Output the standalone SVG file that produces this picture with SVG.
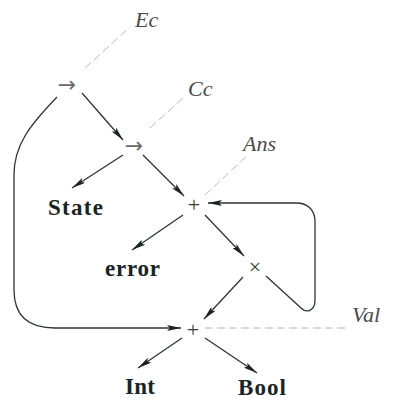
<svg xmlns="http://www.w3.org/2000/svg" width="396" height="400" viewBox="0 0 396 400">
<style>
.bg{fill:#ffffff}
.con{fill:none;stroke:#2e3434;stroke-width:1.3}
.dash{fill:none;stroke:#b8b8b8;stroke-width:1;stroke-dasharray:8 4}
.lbl{font-family:"Liberation Serif",serif;font-weight:bold;font-size:23px;fill:#1a2424}
.var{font-family:"Liberation Serif",serif;font-style:italic;font-size:22px;fill:#4a4a4a}
.sym{font-family:"DejaVu Sans",sans-serif;font-size:22px;fill:#6a6a6a;text-anchor:middle}
.op{font-family:"Liberation Serif",serif;font-size:22px;fill:#3a3a3a;text-anchor:middle}
</style>
<defs>
<marker id="ah" viewBox="0 0 14 6" refX="14" refY="3" markerWidth="14" markerHeight="6" markerUnits="userSpaceOnUse" orient="auto">
<path d="M0,0 L14,3 L0,6 L3,3 Z" fill="#1a2424"/>
</marker>
</defs>
<rect class="bg" x="0" y="0" width="396" height="400"/>
<g id="connectors">
<line class="dash" x1="85" y1="68" x2="130" y2="27"/>
<line class="dash" x1="150" y1="128" x2="183" y2="98"/>
<line class="dash" x1="205" y1="195" x2="248" y2="155"/>
<line class="dash" x1="205" y1="328" x2="348" y2="328"/>
<line class="con" x1="82" y1="93" x2="123" y2="140" marker-end="url(#ah)"/>
<line class="con" x1="123" y1="155" x2="72" y2="188" marker-end="url(#ah)"/>
<line class="con" x1="143" y1="155" x2="184" y2="196" marker-end="url(#ah)"/>
<line class="con" x1="183" y1="215" x2="132" y2="250" marker-end="url(#ah)"/>
<line class="con" x1="205" y1="215" x2="244" y2="256" marker-end="url(#ah)"/>
<line class="con" x1="243" y1="277" x2="204" y2="319" marker-end="url(#ah)"/>
<line class="con" x1="182" y1="338" x2="138" y2="368" marker-end="url(#ah)"/>
<line class="con" x1="205" y1="338" x2="257" y2="373" marker-end="url(#ah)"/>
<path class="con" d="M266,276 L301,308 C306,313 315,312 315,300 L315,222 C315,210 308,203 296,203 L208,203" marker-end="url(#ah)"/>
<path class="con" d="M57,97 C30,125 14,145 14,175 L14,290 C14,315 28,328 55,328 L181,328" marker-end="url(#ah)"/>
</g>
<g id="n1"><text class="sym" x="67" y="92">→</text></g>
<g id="n2"><text class="sym" x="134" y="153">→</text></g>
<g id="n3"><text class="op" x="194" y="212">+</text></g>
<g id="n4"><text class="op" x="255" y="274">×</text></g>
<g id="n5"><text class="op" x="193" y="337">+</text></g>
<g id="ec"><text class="var" x="135" y="27">Ec</text></g>
<g id="cc"><text class="var" x="188" y="96">Cc</text></g>
<g id="ans"><text class="var" x="243" y="151">Ans</text></g>
<g id="val"><text class="var" x="352" y="322">Val</text></g>
<g id="state"><text class="lbl" x="48" y="215" textLength="55" lengthAdjust="spacing">State</text></g>
<g id="error"><text class="lbl" x="105" y="276" textLength="55" lengthAdjust="spacing">error</text></g>
<g id="int"><text class="lbl" x="125" y="394" textLength="30" lengthAdjust="spacing">Int</text></g>
<g id="bool"><text class="lbl" x="238" y="395" textLength="48" lengthAdjust="spacing">Bool</text></g>
</svg>
